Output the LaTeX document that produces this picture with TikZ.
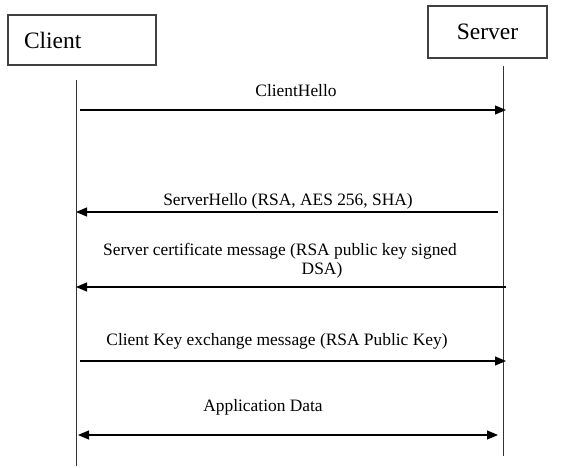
\documentclass[tikz,border=0pt]{standalone}
\usepackage{fontspec}
\setmainfont{Liberation Serif}
\usetikzlibrary{arrows.meta}
\begin{document}
\begin{tikzpicture}[x=1pt,y=-1pt,
  actor/.style={draw=black!75,line width=1.3pt,minimum height=50pt,inner ysep=0pt,font=\fontsize{23.5}{26}\selectfont},
  life/.style={draw=black!80,line width=0.9pt},
  tip/.tip={Triangle[length=11pt,width=9pt]},
  msg/.style={draw=black,line width=1.2pt,-tip},
  both/.style={draw=black,line width=1.2pt,tip-tip},
  lbl/.style={font=\fontsize{17.4}{20}\selectfont,inner sep=0pt}]
\useasboundingbox (0,0) rectangle (571,468);

% participants
\node[actor,text width=116pt,inner xsep=16pt,align=left] (client) at (82,40) {Client};
\node[actor,minimum width=119pt,minimum height=52pt] (server) at (487.5,32) {Server};

% lifelines
\coordinate (ctop) at (76,80);
\coordinate (cbot) at (76,466);
\coordinate (stop) at (503,66);
\coordinate (sbot) at (503,456);
\draw[life] (ctop) -- (cbot);
\draw[life] (stop) -- (sbot);

% message end points
\coordinate (m1a) at (80,110);  \coordinate (m1b) at (506,110);
\coordinate (m2a) at (498,212); \coordinate (m2b) at (76,212);
\coordinate (m3a) at (506,287); \coordinate (m3b) at (76,287);
\coordinate (m4a) at (80,361);  \coordinate (m4b) at (506,361);
\coordinate (m5a) at (78,435);  \coordinate (m5b) at (498,435);

% messages
\draw[msg] (m1a) -- (m1b);
\draw[msg] (m2a) -- (m2b);
\draw[msg] (m3a) -- (m3b);
\draw[msg] (m4a) -- (m4b);
\draw[both] (m5a) -- (m5b);

% labels
\node[lbl] (t1) at (296,91) {ClientHello};
\node[lbl] (t2) at (288,201) {ServerHello (RSA, AES 256, SHA)};
\node[lbl] (t3) at (280,251) {Server certificate message (RSA public key signed};
\node[lbl] (t3b) at (322,270) {DSA)};
\node[lbl] (t4) at (277,341) {Client Key exchange message (RSA Public Key)};
\node[lbl] (t5) at (263,407) {Application Data};
\end{tikzpicture}
\end{document}
